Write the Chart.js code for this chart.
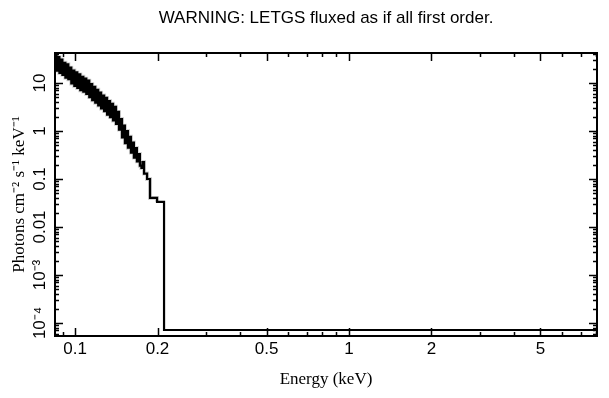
<!DOCTYPE html>
<html>
<head>
<meta charset="utf-8">
<title>LETGS fluxed spectrum</title>
<script src="https://cdn.jsdelivr.net/npm/chart.js@4.4.1/dist/chart.umd.min.js"></script>
<style>
  html, body { margin: 0; padding: 0; background: #fff; }
  canvas { display: block; }
</style>
</head>
<body>
<canvas id="spec" width="609" height="398"></canvas>
<script>
// bin lower edges (keV)
const energy = [
  0.0845, 0.0856, 0.0866, 0.0877, 0.0888, 0.0899, 0.0911, 0.0922, 0.0934, 0.0945,
  0.0957, 0.0969, 0.0982, 0.0994, 0.1007, 0.1019, 0.1032, 0.1045, 0.1058, 0.1072,
  0.1085, 0.1099, 0.1113, 0.1127, 0.1141, 0.1155, 0.1170, 0.1185, 0.1199, 0.1215,
  0.1230, 0.1245, 0.1261, 0.1277, 0.1293, 0.1309, 0.1326, 0.1342, 0.1359, 0.1376,
  0.1394, 0.1411, 0.1429, 0.1447, 0.1465, 0.1484, 0.1503, 0.1521, 0.1541, 0.1560,
  0.1580, 0.1600, 0.1620, 0.1640, 0.1661, 0.1682, 0.1703, 0.1725, 0.1747, 0.1762,
  0.1786, 0.1832, 0.1878, 0.1992, 0.2113, 8.04
];
// photons cm^-2 s^-1 keV^-1 per bin
const flux = [
  38, 18.2, 34.7, 16.2, 30.9, 14.8, 26.3, 12.9, 24.5, 12.0,
  20.9, 9.8, 18.2, 8.7, 16.6, 7.9, 15.1, 7.1, 13.5, 6.6,
  12.3, 5.9, 11.2, 5.1, 9.5, 4.4, 8.3, 3.9, 7.2, 3.4,
  6.3, 2.95, 5.5, 2.6, 4.9, 2.2, 4.2, 1.95, 3.7, 1.66,
  3.2, 1.41, 2.5, 1.07, 1.78, 0.74, 1.29, 0.56, 1.0, 0.45,
  0.76, 0.355, 0.575, 0.28, 0.44, 0.234, 0.33, 0.19, 0.17, 0.226,
  0.13, 0.10, 0.0403, 0.0335, 7.15e-5, 7.15e-5
];
const errBins = 64; // bins that carry visible error bars

const xTicks = [0.1, 0.2, 0.5, 1, 2, 5];
const xTickLabels = ['0.1', '0.2', '0.5', '1', '2', '5'];
const xMinor = [0.09, 0.3, 0.4, 0.6, 0.7, 0.8, 0.9, 3, 4, 6, 7, 8];
const yTicks = [1e-4, 1e-3, 0.01, 0.1, 1, 10];
const yTickLabels = ['10\u207B\u2074', '10\u207B\u00B3', '0.01', '0.1', '1', '10'];
const xRange = [0.0845, 8.04];
const yRange = [5.36e-5, 42.2];

const yMinor = [];
[1e-5, 1e-4, 1e-3, 0.01, 0.1, 1, 10].forEach(d => {
  for (let m = 2; m <= 9; m++) {
    const v = m * d;
    if (v > yRange[0] && v < yRange[1]) yMinor.push(v);
  }
});

const points = energy.map((e, i) => ({ x: e, y: flux[i] }));

// frame box + inward ticks on all four sides
const framePlugin = {
  id: 'frame',
  afterDatasetsDraw(chart) {
    const { ctx, chartArea: a, scales: { x, y } } = chart;
    ctx.save();
    ctx.strokeStyle = '#000';
    ctx.lineWidth = 1.5;
    ctx.beginPath();
    const xt = (v, len) => {
      const px = Math.round(x.getPixelForValue(v)) + 0.5;
      ctx.moveTo(px, a.bottom); ctx.lineTo(px, a.bottom - len);
      ctx.moveTo(px, a.top); ctx.lineTo(px, a.top + len);
    };
    const yt = (v, len) => {
      const py = Math.round(y.getPixelForValue(v)) + 0.5;
      ctx.moveTo(a.left, py); ctx.lineTo(a.left + len, py);
      ctx.moveTo(a.right, py); ctx.lineTo(a.right - len, py);
    };
    xTicks.forEach(v => xt(v, 8));
    xMinor.forEach(v => xt(v, 4));
    yTicks.forEach(v => yt(v, 8));
    yMinor.forEach(v => yt(v, 4));
    ctx.stroke();
    ctx.lineWidth = 2;
    ctx.strokeRect(a.left, a.top, a.right - a.left, a.bottom - a.top);
    ctx.restore();
  }
};

new Chart(document.getElementById('spec'), {
  type: 'line',
  data: {
    datasets: [{
      data: points,
      borderColor: '#000',
      borderWidth: 2.2,
      stepped: 'before',
      pointRadius: 0,
      fill: false
    }, {
      data: points.slice(0, errBins),
      borderColor: '#d4d4d4',
      borderWidth: 4,
      stepped: 'before',
      pointRadius: 0,
      fill: false
    }]
  },
  options: {
    responsive: false,
    animation: false,
    layout: { padding: { left: 0, right: 12, top: 0, bottom: 0 } },
    plugins: {
      legend: { display: false },
      tooltip: { enabled: false },
      title: {
        display: true,
        fullSize: false,
        text: 'WARNING: LETGS fluxed as if all first order.',
        color: '#000',
        font: { family: 'Liberation Sans', size: 17, weight: 'normal' },
        padding: { top: 8, bottom: 24.6 }
      }
    },
    scales: {
      x: {
        type: 'logarithmic',
        min: xRange[0],
        max: xRange[1],
        afterBuildTicks: s => { s.ticks = xTicks.map(v => ({ value: v })); },
        afterFit: s => { s.height = 62; },
        grid: { display: false, drawTicks: false },
        border: { display: false },
        ticks: {
          autoSkip: false,
          maxRotation: 0,
          padding: 3,
          color: '#000',
          font: { family: 'Liberation Sans', size: 17 },
          callback: (v, i) => xTickLabels[i]
        },
        title: {
          display: true,
          text: 'Energy (keV)',
          color: '#000',
          font: { family: 'Liberation Serif', size: 17 },
          padding: { top: 0, bottom: 8 }
        }
      },
      y: {
        type: 'logarithmic',
        min: yRange[0],
        max: yRange[1],
        afterBuildTicks: s => { s.ticks = yTicks.map(v => ({ value: v })); },
        afterFit: s => { s.width = 55; },
        grid: { display: false, drawTicks: false },
        border: { display: false },
        ticks: {
          autoSkip: false,
          minRotation: 90,
          maxRotation: 90,
          crossAlign: 'center',
          padding: -1.5,
          color: '#000',
          font: { family: 'Liberation Sans', size: 17 },
          callback: (v, i) => yTickLabels[i]
        },
        title: {
          display: true,
          text: 'Photons cm\u207B\u00B2 s\u207B\u00B9 keV\u207B\u00B9',
          color: '#000',
          font: { family: 'Liberation Serif', size: 17 },
          padding: { top: 9, bottom: 0 }
        }
      }
    }
  },
  plugins: [framePlugin]
});
</script>
</body>
</html>
